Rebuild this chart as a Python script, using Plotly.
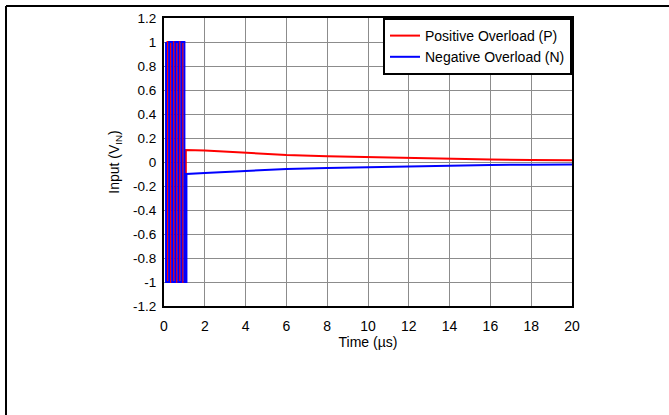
import plotly.graph_objects as go

# Positive overload (P): ringing then decay
p_time = [0.17, 0.17, 0.32, 0.32, 0.47, 0.47, 0.62, 0.62, 0.77, 0.77, 0.92, 0.92, 1.07, 1.07,
          2, 4, 6, 8, 10, 12, 14, 16, 18, 20]
p_val = [-1, 1, 1, -1, -1, 1, 1, -1, -1, 1, 1, -1, -1, 0.10,
         0.096, 0.075, 0.058, 0.047, 0.039, 0.031, 0.025, 0.020, 0.017, 0.014]

# Negative overload (N): ringing then decay
n_time = [0.10, 0.10, 0.25, 0.25, 0.40, 0.40, 0.55, 0.55, 0.70, 0.70, 0.85, 0.85, 1.00, 1.00,
          1.10, 1.10,
          2, 4, 6, 8, 10, 12, 14, 16, 18, 20]
n_val = [1, -1, -1, 1, 1, -1, -1, 1, 1, -1, -1, 1, 1, -1,
         -1, -0.10,
         -0.092, -0.073, -0.058, -0.049, -0.042, -0.035, -0.028, -0.024, -0.022, -0.020]

x_ticks = [0, 2, 4, 6, 8, 10, 12, 14, 16, 18, 20]
y_ticks = [1.2, 1, 0.8, 0.6, 0.4, 0.2, 0, -0.2, -0.4, -0.6, -0.8, -1, -1.2]
y_labels = ["1.2", "1", "0.8", "0.6", "0.4", "0.2", "0", "-0.2", "-0.4", "-0.6", "-0.8", "-1", "-1.2"]

FONT = "Liberation Sans, Arial, sans-serif"

fig = go.Figure()
fig.add_trace(go.Scatter(x=p_time, y=p_val, mode="lines", name="Positive Overload (P)",
                         line=dict(color="#ff0000", width=2)))
fig.add_trace(go.Scatter(x=n_time, y=n_val, mode="lines", name="Negative Overload (N)",
                         line=dict(color="#0000ff", width=2)))

W, H = 669, 415
L, R, T, B = 164, 97, 18, 109
pw, ph = W - L - R, H - T - B

def px_x(p):
    return (p - L) / pw

def px_y(p):
    return (H - B - p) / ph

fig.update_layout(
    width=W, height=H,
    margin=dict(l=L, r=R, t=T, b=B),
    paper_bgcolor="white", plot_bgcolor="white",
    font=dict(family=FONT, size=14, color="black"),
    showlegend=True,
    legend=dict(x=1, y=1, xanchor="right", yanchor="top",
                bgcolor="white", bordercolor="black", borderwidth=2,
                font=dict(size=14), tracegroupgap=0, itemwidth=30),
    xaxis=dict(range=[0, 20], tickvals=x_ticks, showgrid=True, gridcolor="#8c8c8c", gridwidth=1,
               showline=True, linecolor="black", linewidth=2, mirror=True, ticks="",
               zeroline=False, title=dict(text="Time (µs)", standoff=3, font=dict(size=14)),
               ticklabelstandoff=6, tickfont=dict(size=14)),
    yaxis=dict(range=[-1.2, 1.2], tickvals=y_ticks, ticktext=y_labels, showgrid=True,
               gridcolor="#8c8c8c", gridwidth=1,
               showline=True, linecolor="black", linewidth=2, mirror=True, ticks="",
               zeroline=False, title=dict(text="Input (V<sub>IN</sub>)", standoff=10, font=dict(size=14)),
               ticklabelstandoff=3, tickfont=dict(size=13.5)),
    shapes=[
        dict(type="line", xref="paper", yref="paper", x0=px_x(6), x1=px_x(W), y0=px_y(6), y1=px_y(6),
             line=dict(color="black", width=2)),
        dict(type="line", xref="paper", yref="paper", x0=px_x(6), x1=px_x(6), y0=px_y(6), y1=px_y(H),
             line=dict(color="black", width=2)),
    ],
)

fig.write_html("out.html", config={"displayModeBar": False},
               post_script="document.body.style.margin='0';")
